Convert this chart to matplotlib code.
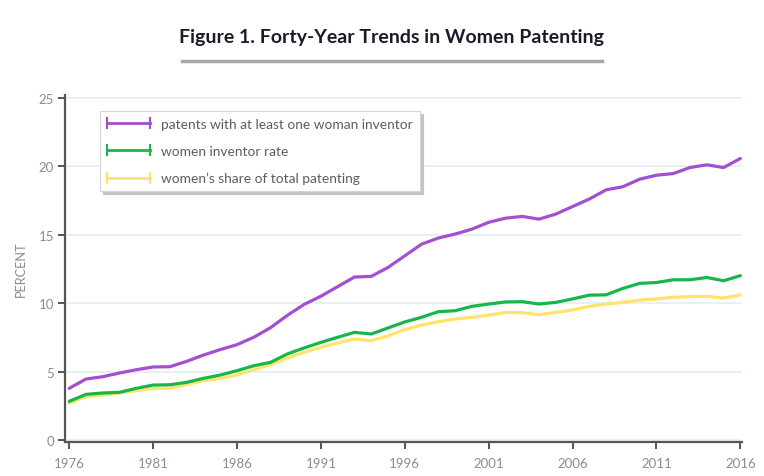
import matplotlib
matplotlib.use('Agg')
import matplotlib.pyplot as plt
from matplotlib.lines import Line2D
from matplotlib.legend_handler import HandlerLine2D

plt.rcParams['font.family'] = ['Lato', 'DejaVu Sans']

years = list(range(1976, 2017))

# patents with at least one woman inventor
any_woman = [3.77, 4.45, 4.62, 4.89, 5.13, 5.33, 5.35, 5.74, 6.2, 6.6,
             6.96, 7.5, 8.2, 9.1, 9.9, 10.5, 11.2, 11.9, 11.95, 12.6,
             13.45, 14.3, 14.75, 15.04, 15.4, 15.9, 16.2, 16.33, 16.13, 16.5,
             17.05, 17.6, 18.27, 18.5, 19.05, 19.34, 19.46, 19.9, 20.1, 19.9,
             20.56]
# women inventor rate
inventor_rate = [2.82, 3.33, 3.43, 3.48, 3.77, 4.01, 4.03, 4.21, 4.5, 4.74,
                 5.06, 5.42, 5.67, 6.28, 6.72, 7.13, 7.5, 7.86, 7.74, 8.18,
                 8.62, 8.96, 9.37, 9.44, 9.76, 9.93, 10.08, 10.1, 9.93, 10.05,
                 10.3, 10.58, 10.6, 11.07, 11.44, 11.5, 11.7, 11.7, 11.87, 11.63,
                 12.0]
# women's share of total patenting
share_total = [2.68, 3.16, 3.28, 3.43, 3.6, 3.77, 3.77, 4.04, 4.33, 4.5,
               4.74, 5.13, 5.5, 5.99, 6.4, 6.77, 7.08, 7.37, 7.25, 7.61,
               8.06, 8.39, 8.64, 8.83, 8.96, 9.12, 9.32, 9.3, 9.15, 9.32,
               9.49, 9.76, 9.93, 10.05, 10.22, 10.3, 10.42, 10.47, 10.5, 10.36,
               10.6]

labels = ['patents with at least one woman inventor',
          'women inventor rate',
          "women\u2019s share of total patenting"]
colors = ['#a24fd2', '#17b64b', '#ffe46a']
series = [any_woman, inventor_rate, share_total]

xticks = list(range(1976, 2017, 5))
yticks = [0, 5, 10, 15, 20, 25]

fig = plt.figure(figsize=(7.64, 4.77), dpi=100)
ax = fig.add_axes([65/764, 34/477, 677/764, 347/477])

for ys, c in zip(series[::-1], colors[::-1]):
    ax.plot(years, ys, color=c, lw=2.3, solid_capstyle='round', zorder=3)

ax.set_xlim(1975.75, 2016.1)
ax.set_ylim(-0.15, 25.2)
ax.set_xticks(xticks)
ax.set_yticks(yticks)
ax.grid(axis='y', color='#e4eff0', lw=1.2, zorder=0)

for s in ['top', 'right']:
    ax.spines[s].set_visible(False)
for s in ['left', 'bottom']:
    ax.spines[s].set_color('#555555')
    ax.spines[s].set_linewidth(1.6)
ax.tick_params(axis='both', colors='#555555', labelcolor='#8a8c9c',
               labelsize=9.5, length=5, width=1.4)
ax.tick_params(axis='x', pad=6)
ax.tick_params(axis='y', pad=3)

ax.set_ylabel('PERCENT', color='#8a8c9c', fontsize=9.2, labelpad=8)

handles = [Line2D([0], [0], color=c, lw=2, marker='|', markersize=9,
                  markeredgewidth=1.5) for c in colors]
leg = ax.legend(handles, labels, loc='upper left',
                bbox_to_anchor=(0.052, 0.954), borderaxespad=0,
                numpoints=2, fontsize=9.9, handlelength=3.1,
                handletextpad=0.85, labelspacing=1.1, borderpad=0.5,
                frameon=True, fancybox=False,
                shadow={'color': '#c4c4c4', 'alpha': 1},
                edgecolor='#d4d4d4',
                handler_map={Line2D: HandlerLine2D(marker_pad=0)})
leg.get_frame().set_linewidth(0.8)
for t in leg.get_texts():
    t.set_color('#5c5c6c')

fig.text(391/764, 1 - 37/477, 'Figure 1. Forty-Year Trends in Women Patenting',
         ha='center', va='center', fontsize=14, fontweight='bold',
         color='#1a1a2a')
fig.add_artist(Line2D([182/764, 602/764], [1 - 62/477, 1 - 62/477],
                      color='#a8a8a8', lw=2.5, transform=fig.transFigure))

fig.savefig('out.png', dpi=100)
